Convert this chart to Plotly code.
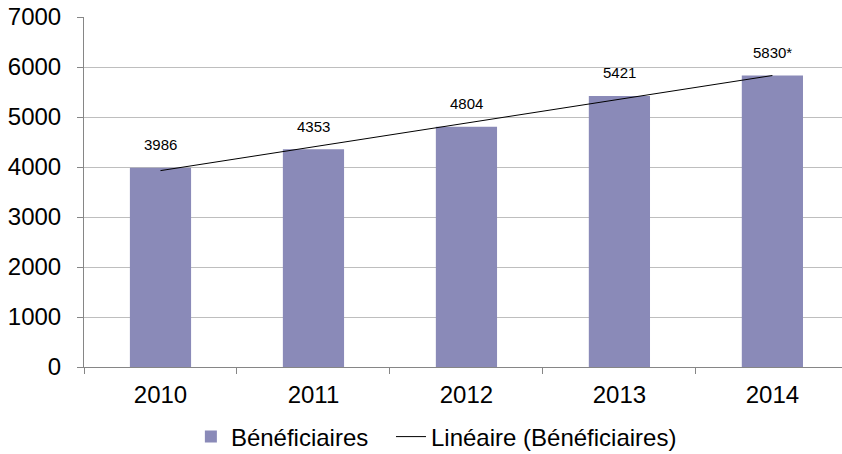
import numpy as np
import plotly.graph_objects as go

years = ["2010", "2011", "2012", "2013", "2014"]
beneficiaires = [3986, 4353, 4804, 5421, 5830]
labels = ["3986", "4353", "4804", "5421", "5830*"]
y_ticks = [0, 1000, 2000, 3000, 4000, 5000, 6000, 7000]

# linear trend (least squares) from the data
idx = np.arange(len(beneficiaires))
slope, intercept = np.polyfit(idx, beneficiaires, 1)
trend = list(slope * idx + intercept)

BAR = "#8A8AB8"
FONT = "Liberation Sans, Arial, sans-serif"

fig = go.Figure()
fig.add_trace(go.Bar(
    x=years, y=beneficiaires, name="Bénéficiaires",
    marker=dict(color=BAR, line=dict(width=0)),
    width=0.4, legend="legend",
))
fig.add_trace(go.Scatter(
    x=years, y=trend, mode="lines", name="Linéaire (Bénéficiaires)",
    line=dict(color="#000000", width=1), legend="legend2",
))
for i, (v, t) in enumerate(zip(beneficiaires, labels)):
    fig.add_annotation(x=i, y=v, xref="x", yref="y", text=t, showarrow=False,
                       yshift=23, font=dict(family=FONT, size=15, color="#000000"))

leg_common = dict(orientation="h", xanchor="left", y=-0.2, yanchor="middle",
                  font=dict(family=FONT, size=24), bgcolor="rgba(0,0,0,0)")
fig.update_layout(
    width=842, height=454,
    margin=dict(l=84, r=0, t=17, b=87, autoexpand=False),
    paper_bgcolor="white", plot_bgcolor="white",
    font=dict(family=FONT, color="#000000"),
    showlegend=True,
    legend=dict(x=0.141, **leg_common),
    legend2=dict(x=0.405, **leg_common),
)
fig.update_xaxes(
    type="category", range=[-0.5, 4.455], automargin=False,
    showline=True, linecolor="#868686", linewidth=1,
    ticks="outside", ticklen=6, tickcolor="#868686", tickson="boundaries",
    tickfont=dict(family=FONT, size=24, color="#000000"),
    showgrid=False, ticklabelstandoff=6,
)
fig.update_yaxes(
    range=[0, 7000], tickvals=y_ticks, automargin=False,
    showline=True, linecolor="#868686", linewidth=1,
    ticks="outside", ticklen=6, tickcolor="#868686",
    tickfont=dict(family=FONT, size=24, color="#000000"),
    showgrid=True, gridcolor="#BEBEBE", gridwidth=1,
    zeroline=False, ticklabelstandoff=11, ticklabeloverflow="allow",
)

fig.write_html("out.html", config={"displayModeBar": False},
               post_script="document.body.style.margin='0';")
